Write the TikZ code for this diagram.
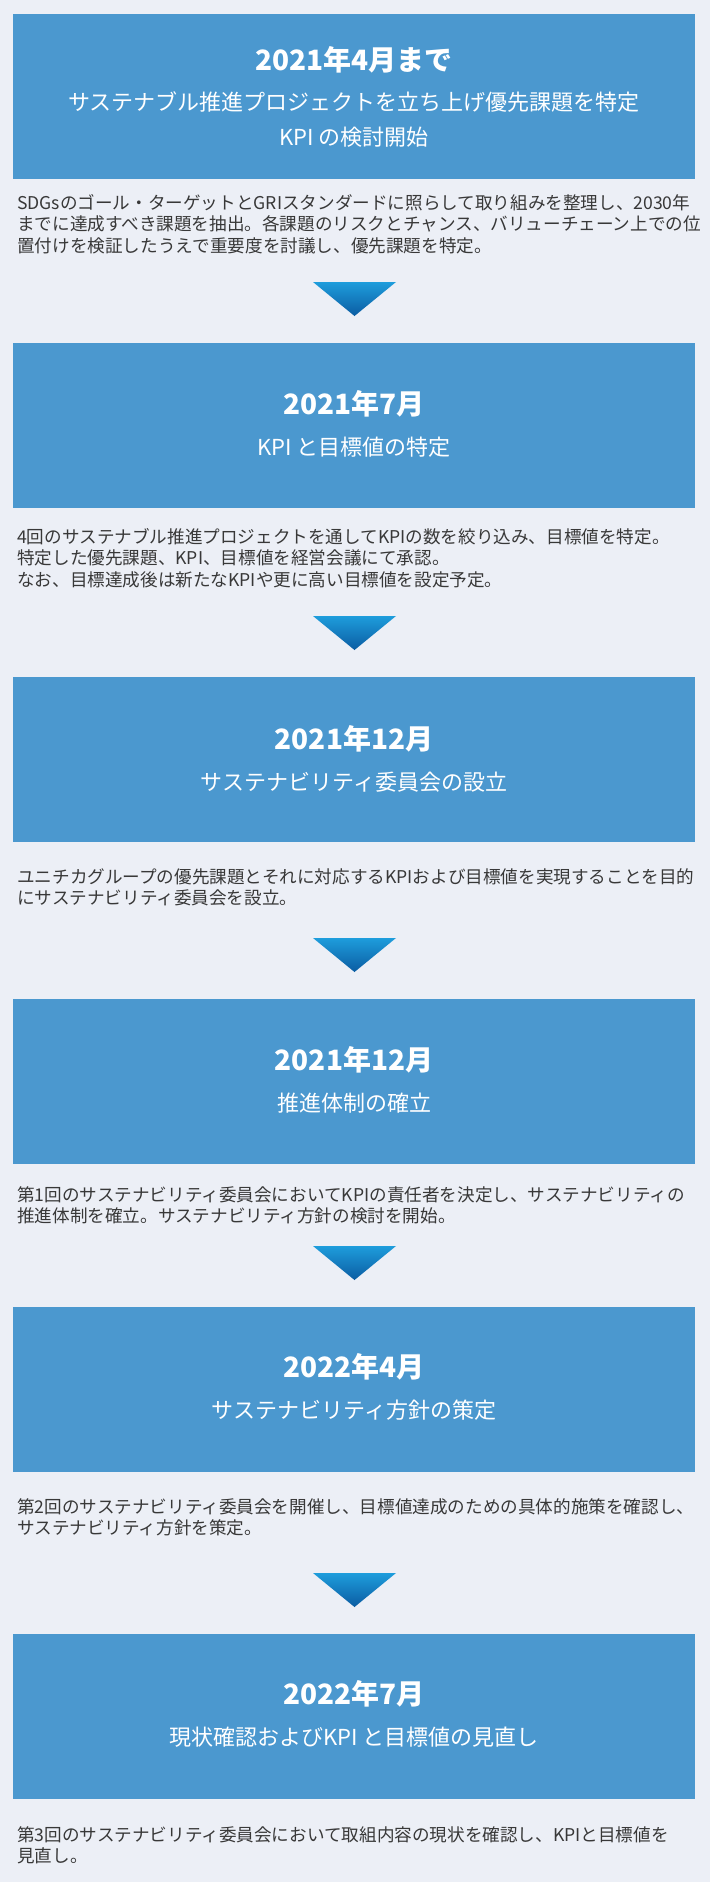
\documentclass[tikz,border=0pt]{standalone}
\usepackage{fontspec}
\setmainfont{Noto Sans CJK JP}
\definecolor{pagebg}{HTML}{ECEFF6}
\definecolor{boxblue}{HTML}{4B98CF}
\definecolor{notegray}{HTML}{383838}
\definecolor{arrowtop}{HTML}{1E9DDC}
\definecolor{arrowbottom}{HTML}{0B5CA2}

\begin{document}
\begin{tikzpicture}[x = 1pt, y = -1pt,
    stagebox/.style = {fill = boxblue, minimum width = 682pt, minimum height = 164.5pt, inner sep = 0pt, anchor = north west},
    stagedate/.style = {text = white, font = \bfseries\fontsize{28}{32}\selectfont, inner sep = 0pt},
    stagename/.style = {text = white, font = \fontsize{22}{35}\selectfont, inner sep = 0pt, align = center},
    stagenote/.style = {text = notegray, font = \fontsize{17.6}{21.7}\selectfont, inner sep = 0pt, align = left, anchor = north west},
    stagearrow/.style = {top color = arrowtop, bottom color = arrowbottom}]

    \useasboundingbox [fill = pagebg] (0, 0) rectangle (710, 1882);

    \node [stagebox] (B1) at (13, 14) {};
    \node [stagebox] (B2) at (13, 343) {};
    \node [stagebox] (B3) at (13, 677) {};
    \node [stagebox] (B4) at (13, 999) {};
    \node [stagebox] (B5) at (13, 1307) {};
    \node [stagebox] (B6) at (13, 1634) {};

    \node [stagedate] (D1) at (354, 60) {2021年4月まで};
    \node [stagename] (N1) at (354, 119.5) {サステナブル推進プロジェクトを立ち上げ優先課題を特定\\KPI の検討開始};
    \node [stagedate] (D2) at (354, 404) {2021年7月};
    \node [stagename] (N2) at (354, 447) {KPI と目標値の特定};
    \node [stagedate] (D3) at (354, 739) {2021年12月};
    \node [stagename] (N3) at (354, 782) {サステナビリティ委員会の設立};
    \node [stagedate] (D4) at (354, 1060) {2021年12月};
    \node [stagename] (N4) at (354, 1103) {推進体制の確立};
    \node [stagedate] (D5) at (354, 1367) {2022年4月};
    \node [stagename] (N5) at (354, 1410) {サステナビリティ方針の策定};
    \node [stagedate] (D6) at (354, 1694) {2022年7月};
    \node [stagename] (N6) at (354, 1737) {現状確認およびKPI と目標値の見直し};

    \node [stagenote] (P1) at (17, 194) {SDGsのゴール・ターゲットとGRIスタンダードに照らして取り組みを整理し、2030年\\までに達成すべき課題を抽出。各課題のリスクとチャンス、バリューチェーン上での位\\置付けを検証したうえで重要度を討議し、優先課題を特定。};
    \node [stagenote] (P2) at (17, 528) {4回のサステナブル推進プロジェクトを通してKPIの数を絞り込み、目標値を特定。\\特定した優先課題、KPI、目標値を経営会議にて承認。\\なお、目標達成後は新たなKPIや更に高い目標値を設定予定。};
    \node [stagenote] (P3) at (17, 868) {ユニチカグループの優先課題とそれに対応するKPIおよび目標値を実現することを目的\\にサステナビリティ委員会を設立。};
    \node [stagenote] (P4) at (17, 1186) {第1回のサステナビリティ委員会においてKPIの責任者を決定し、サステナビリティの\\推進体制を確立。サステナビリティ方針の検討を開始。};
    \node [stagenote] (P5) at (17, 1498) {第2回のサステナビリティ委員会を開催し、目標値達成のための具体的施策を確認し、\\サステナビリティ方針を策定。};
    \node [stagenote] (P6) at (17, 1826) {第3回のサステナビリティ委員会において取組内容の現状を確認し、KPIと目標値を\\見直し。};

    \shade [stagearrow] (313, 282) -- (396, 282) -- (354.5, 316) -- cycle;
    \shade [stagearrow] (313, 616) -- (396, 616) -- (354.5, 650) -- cycle;
    \shade [stagearrow] (313, 938) -- (396, 938) -- (354.5, 972) -- cycle;
    \shade [stagearrow] (313, 1246) -- (396, 1246) -- (354.5, 1280) -- cycle;
    \shade [stagearrow] (313, 1573) -- (396, 1573) -- (354.5, 1607) -- cycle;
\end{tikzpicture}
\end{document}
